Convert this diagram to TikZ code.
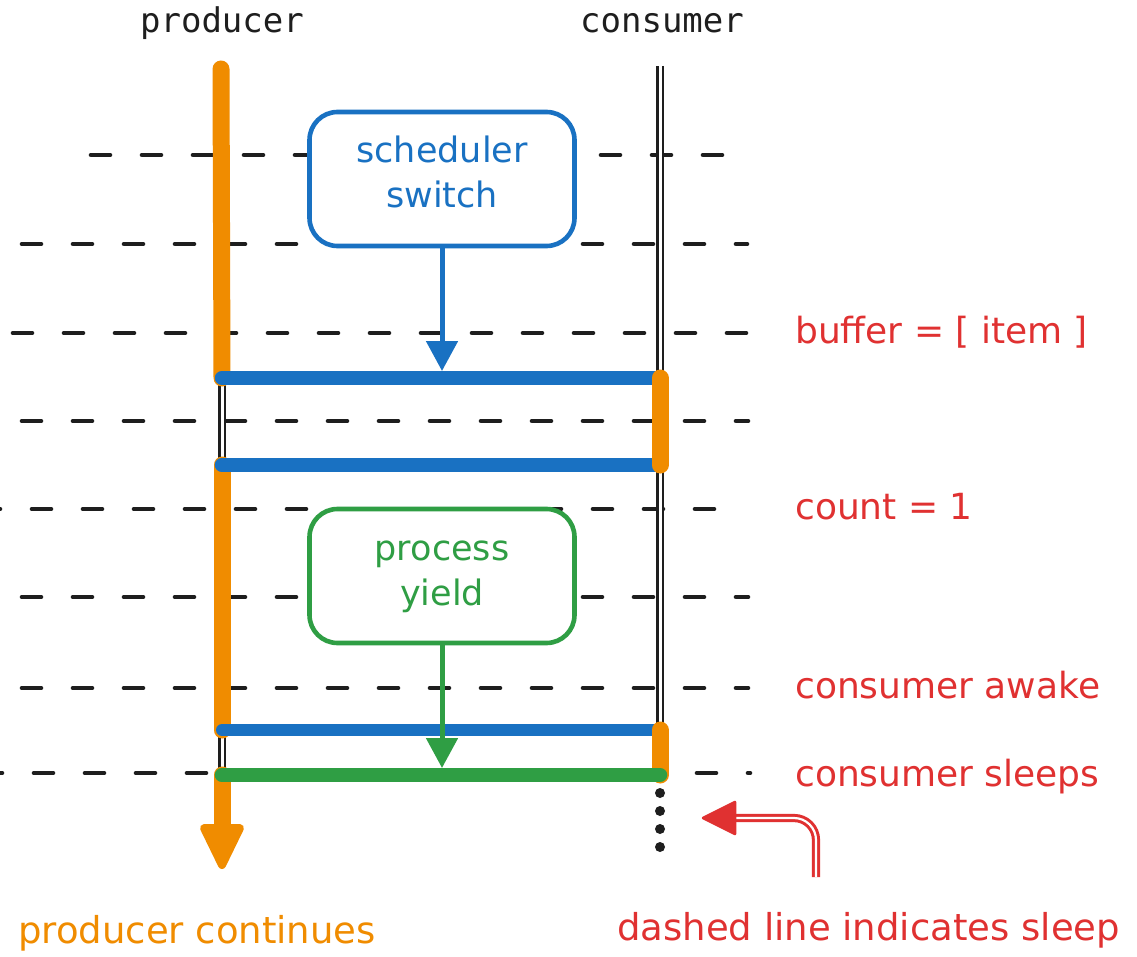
\documentclass[tikz,border=0pt]{standalone}
\usepackage{fontspec}
\setmainfont{DejaVu Sans}
\newfontfamily\headfont{DejaVu Sans Mono}
\usetikzlibrary{arrows.meta}
\definecolor{inkblack}{HTML}{1E1E1E}
\definecolor{inkorange}{HTML}{F08C00}
\definecolor{inkblue}{HTML}{1971C2}
\definecolor{inkgreen}{HTML}{2F9E44}
\definecolor{inkred}{HTML}{E03131}
\begin{document}
\begin{tikzpicture}[x=1pt,y=-1pt,
  gridline/.style={draw=inkblack, line width=4.6pt, line cap=round, dash pattern=on 19pt off 32pt},
  awake/.style={draw=inkorange, line width=17pt, line cap=round},
  asleep/.style={draw=inkblack, line width=2.8pt, double=white, double distance=3pt},
  handoff/.style={line width=14.5pt, line cap=round},
  stepbox/.style={draw, fill=white, rounded corners=28pt, line width=4.6pt,
    minimum width=265pt, minimum height=134pt, inner sep=0pt, align=center,
    font=\fontsize{35}{45}\selectfont, text height=58pt, text depth=0pt},
  flow/.style={line width=5pt, -{Triangle[length=30pt,width=31pt]}, shorten >=7pt},
  lanetitle/.style={font=\headfont\fontsize{34}{40}\selectfont, text=inkblack, anchor=base, inner sep=0pt},
  statelabel/.style={font=\fontsize{36}{42}\selectfont, text=inkred, anchor=base west, inner sep=0pt},
  notetext/.style={font=\fontsize{37}{44}\selectfont, anchor=base west, inner sep=0pt},
]
% canvas
\fill[white] (0,0) rectangle (1137,957);
\useasboundingbox (0,0) rectangle (1137,957);

% time grid
\draw[gridline] (91,155) -- (725,155);
\draw[gridline] (22,244) -- (747,244);
\draw[gridline] (13,333) -- (748,333);
\draw[gridline] (22,421) -- (748,421);
\draw[gridline] (-19,509) -- (720,509);
\draw[gridline] (22,597) -- (748,597);
\draw[gridline] (22,688) -- (748,688);
\draw[gridline] (-17,773) -- (750,773);

% lane titles
\node[lanetitle] (prodTitle) at (222,33) {producer};
\node[lanetitle] (consTitle) at (662,33) {consumer};

% lifeline anchor points
\coordinate (prodTop) at (221,69);
\coordinate (pA) at (222,378);
\coordinate (pB) at (222,465);
\coordinate (pC) at (222,730);
\coordinate (pD) at (222,775);
\coordinate (prodEnd) at (222,865);
\coordinate (consTop) at (660,66);
\coordinate (cA) at (660,378);
\coordinate (cB) at (660,465);
\coordinate (cC) at (660,730);
\coordinate (cD) at (660,775);

% sleeping stretches
\draw[asleep] (pA) -- (pB);
\draw[asleep] (pC) -- (pD);
\draw[asleep] (consTop) -- (cA);
\draw[asleep] (cB) -- (cC);

% producer running
\draw[awake] (prodTop) -- (pA);
\draw[awake] (pB) -- (pC);
\draw[awake, shorten >=30pt] (pD) -- (prodEnd);
\filldraw[inkorange, line width=8pt, line join=round]
  (prodEnd) -- ++(-18,-37) -- ++(36,0) -- cycle;

% hand-offs between the two sides
\draw[handoff, inkblue] (pA) -- (cA);
\draw[handoff, inkblue] (pB) -- (cB);
\draw[handoff, inkblue, line width=12pt] (pC) -- (cC);

% consumer running
\draw[awake] (cA) -- (cB);
\draw[awake] (cC) -- (cD);
\draw[handoff, inkgreen] (pD) -- (cD);

% consumer asleep afterwards
\foreach \k in {0,...,3}
  \fill[inkblack] (660,793+18*\k) circle (5pt);

% scheduler events
\node[stepbox, draw=inkblue, text=inkblue] (sched) at (442,179) {scheduler\\switch};
\draw[flow, inkblue] (sched.south) -- (sched.south |- pA);

\node[stepbox, draw=inkgreen, text=inkgreen] (yield) at (442,576) {process\\yield};
\draw[flow, inkgreen] (yield.south) -- (yield.south |- pD);

% state notes
\node[statelabel] (bufLbl) at (795,343) {buffer = [ item ]};
\node[statelabel] (countLbl) at (795,519) {count = 1};
\node[statelabel] (awakeLbl) at (795,698) {consumer awake};
\node[statelabel] (sleepLbl) at (795,786) {consumer sleeps};

% footnotes
\node[notetext, text=inkorange] (prodNote) at (18,943) {producer continues};
\node[notetext, text=inkred] (sleepNote) at (617,940) {dashed line indicates sleep};

% pointer to the dotted tail
\coordinate (noteTail) at (816,877);
\coordinate (noteHead) at (703,818);
\draw[draw=inkred, line width=3pt, double=white, double distance=2.2pt, rounded corners=22pt]
  (noteTail) -- (noteTail |- noteHead) -- ([xshift=30pt]noteHead);
\filldraw[inkred, line width=2.5pt, line join=round]
  (noteHead) -- ++(32,-16) -- ++(0,32) -- cycle;
\end{tikzpicture}
\end{document}
